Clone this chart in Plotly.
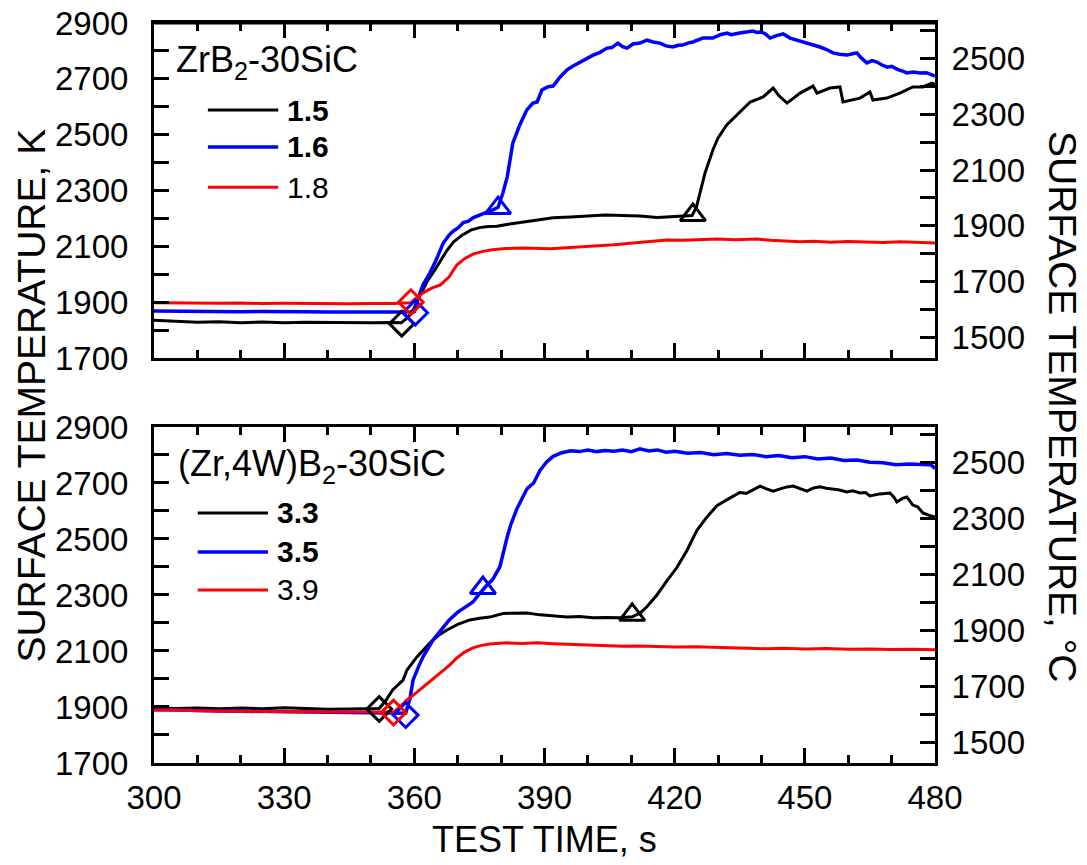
import plotly.graph_objects as go

# ---------------- data ----------------
# Top panel: ZrB2-30SiC
top_15_t = [300, 305, 310, 315, 320, 325, 330, 335, 340, 345, 350, 355, 357, 358.5, 360, 361.5, 363, 364.5, 366, 367.5, 369, 371, 373, 375, 377, 379, 382, 385, 388, 392, 396, 400, 404, 408, 412, 416, 420, 424, 425, 426, 427, 428.8, 430, 432, 434.4, 437.4, 440.4, 442.7, 444, 445.9, 448.9, 451.9, 452.8, 455.8, 458.1, 458.8, 462.7, 465, 465.7, 468.9, 471.9, 474.9, 477.2, 479.3, 480]
top_15_T = [1835, 1832, 1828, 1830, 1826, 1829, 1826, 1828, 1827, 1828, 1826, 1827, 1826, 1845, 1880, 1930, 1975, 2010, 2050, 2085, 2115, 2140, 2158, 2167, 2171, 2172, 2180, 2186, 2192, 2202, 2205, 2208, 2212, 2210, 2209, 2203, 2207, 2210, 2240, 2300, 2363, 2445, 2488, 2535, 2570, 2617, 2635, 2667, 2640, 2613, 2649, 2674, 2649, 2667, 2671, 2617, 2631, 2653, 2624, 2631, 2649, 2671, 2671, 2685, 2680]

top_16_t = [300, 305, 310, 315, 320, 325, 330, 335, 340, 345, 350, 355, 358, 360, 361, 362, 363.6, 365, 366.6, 368, 369, 370, 371.3, 372.5, 373.5, 375, 376.3, 378, 379.3, 380.4, 381.4, 382.7, 384.3, 385.9, 387.3, 388.3, 389.4, 390.8, 392, 393.5, 395.2, 396.5, 398.2, 399.5, 401.2, 402.8, 404.4, 405.5, 406.9, 408, 409, 410.4, 412, 413.6, 415, 416.6, 418, 419.6, 420.8, 421.9, 423, 424.2, 425.4, 426.5, 428.8, 430.5, 432.1, 433, 435, 436.5, 438, 439, 440, 441, 442, 443.5, 445, 446.6, 448.5, 450.5, 452, 453.5, 455, 456.5, 458, 459.7, 461, 462, 463, 464.3, 465.5, 466.6, 468, 469, 470, 471.2, 472.5, 473.5, 475, 476.5, 478, 479.3, 480]
top_16_T = [1868, 1867, 1866, 1868, 1866, 1867, 1865, 1866, 1865, 1866, 1865, 1865, 1865, 1866, 1920, 1962, 2005, 2050, 2110, 2140, 2155, 2165, 2185, 2190, 2202, 2210, 2220, 2230, 2240, 2291, 2348, 2470, 2535, 2588, 2613, 2617, 2660, 2672, 2674, 2705, 2732, 2745, 2760, 2770, 2785, 2795, 2810, 2812, 2828, 2815, 2810, 2825, 2828, 2839, 2832, 2828, 2818, 2814, 2820, 2821, 2828, 2832, 2840, 2846, 2846, 2858, 2864, 2858, 2864, 2866, 2871, 2866, 2868, 2860, 2846, 2855, 2861, 2846, 2838, 2828, 2822, 2814, 2805, 2793, 2788, 2785, 2790, 2793, 2775, 2757, 2765, 2760, 2748, 2742, 2745, 2735, 2728, 2721, 2724, 2721, 2722, 2714, 2710]

top_18_t = [300, 305, 310, 315, 320, 325, 330, 335, 340, 345, 350, 355, 359.2, 361, 362.5, 364, 366, 368, 369.8, 371.5, 373.5, 375.8, 378, 381, 385, 388, 391.3, 395, 398.9, 402, 406, 410.4, 414, 418.2, 422, 426, 429.8, 434, 439, 442, 445, 448.9, 452, 456, 460, 464.3, 468, 472, 476, 480]
top_18_T = [1898, 1897, 1898, 1896, 1897, 1895, 1896, 1895, 1896, 1894, 1895, 1895, 1898, 1922, 1938, 1950, 1962, 1990, 2033, 2055, 2072, 2082, 2088, 2092, 2094, 2093, 2091, 2095, 2098, 2102, 2106, 2112, 2118, 2123, 2122, 2125, 2126, 2124, 2126, 2122, 2120, 2116, 2118, 2115, 2117, 2116, 2114, 2116, 2113, 2112]

# Bottom panel: (Zr,4W)B2-30SiC
bot_33_t = [300, 305, 310, 315, 320, 325, 330, 335, 340, 345, 350, 351.9, 353.5, 355, 357.4, 358.3, 360.6, 363.6, 365.5, 367.5, 370, 372.8, 375, 377.4, 380.4, 383, 386, 389, 392, 395.2, 398, 401.2, 404, 407.4, 410.2, 412, 413.6, 415.9, 418.2, 420.5, 422.8, 425.1, 427.4, 429.8, 432.7, 435, 436.5, 438, 439.7, 441, 442.7, 444.5, 445.9, 447.3, 449, 450.5, 452, 453.5, 455, 456.5, 458, 459.7, 461, 462.7, 464, 465, 467.3, 469.6, 470.5, 471.2, 472.5, 473.5, 474.9, 476, 477.2, 478.5, 480]
bot_33_T = [1898, 1895, 1896, 1894, 1896, 1894, 1897, 1895, 1892, 1893, 1894, 1895, 1925, 1961, 1996, 2032, 2079, 2129, 2155, 2175, 2195, 2211, 2217, 2221, 2234, 2235, 2236, 2229, 2225, 2221, 2223, 2219, 2220, 2219, 2222, 2235, 2258, 2300, 2350, 2398, 2458, 2530, 2578, 2620, 2646, 2666, 2663, 2675, 2689, 2680, 2671, 2680, 2686, 2689, 2680, 2671, 2682, 2686, 2681, 2679, 2675, 2668, 2672, 2664, 2666, 2654, 2661, 2664, 2650, 2632, 2645, 2650, 2621, 2615, 2593, 2585, 2578]

bot_35_t = [300, 305, 310, 315, 320, 325, 330, 335, 340, 345, 350, 355, 358, 359, 359.7, 361, 362, 364.3, 366.6, 368, 369.8, 371.5, 373.5, 374.8, 375.8, 377, 378, 379.7, 381.4, 382.2, 383.7, 386, 387.5, 389, 390.5, 392, 394, 396, 398, 400, 402, 404, 406, 408, 410, 412, 414, 416, 418, 420, 423, 426, 429, 432, 435, 438, 441, 444, 447, 450, 453, 456, 459, 462, 465, 468, 471, 474, 477, 479, 480]
bot_35_T = [1892, 1889, 1887, 1886, 1885, 1884, 1883, 1882, 1881, 1880, 1880, 1879, 1878, 1930, 1996, 2045, 2079, 2139, 2186, 2210, 2236, 2255, 2275, 2300, 2320, 2340, 2354, 2400, 2507, 2550, 2610, 2680, 2700, 2746, 2775, 2795, 2808, 2815, 2812, 2818, 2812, 2816, 2813, 2818, 2812, 2822, 2814, 2818, 2810, 2813, 2806, 2809, 2801, 2805, 2799, 2802, 2794, 2798, 2790, 2794, 2786, 2789, 2780, 2782, 2774, 2772, 2765, 2768, 2766, 2765, 2752]

bot_39_t = [300, 305, 310, 315, 320, 325, 330, 335, 340, 345, 350, 355.2, 357, 358.3, 360, 362, 364, 365.9, 368, 369.8, 371.5, 373.5, 375.5, 377.4, 381.4, 385, 388.3, 392, 396, 400, 404, 408, 412, 416, 420, 425, 430, 435, 440, 441.3, 445, 450, 455, 460, 465, 470, 475, 480]
bot_39_T = [1888, 1889, 1887, 1886, 1884, 1885, 1883, 1884, 1882, 1883, 1882, 1882, 1905, 1925, 1945, 1971, 1995, 2021, 2048, 2075, 2095, 2111, 2120, 2125, 2129, 2127, 2129, 2126, 2124, 2122, 2120, 2117, 2118, 2115, 2114, 2115, 2113, 2112, 2111, 2108, 2110, 2107, 2109, 2106, 2107, 2105, 2106, 2104]

# Event markers (diamond = onset, triangle = jump)
top_onset_t = [357.1, 360.2, 359.2]
top_onset_T = [1823, 1862, 1900]
top_jump_t = [424.2, 379.3]
top_jump_T = [2212, 2237]
bot_onset_t = [351.9, 358.0, 355.2]
bot_onset_T = [1893, 1871, 1880]
bot_jump_t = [410.2, 375.8]
bot_jump_T = [2229, 2325]

top_labels = ["<b>1.5</b>", "<b>1.6</b>", "1.8"]
bot_labels = ["<b>3.3</b>", "<b>3.5</b>", "3.9"]
series_colors = ["#000000", "#0000FF", "#FF0000"]
series_widths = [3, 3.5, 3]

time_range = [300, 480]
K_MIN, K_MAX = 1700, 2900
KELVIN_OFFSET = 273.15

FONT = "Liberation Sans, Arial, sans-serif"

fig = go.Figure()

top_series = [(top_15_t, top_15_T), (top_16_t, top_16_T), (top_18_t, top_18_T)]
bot_series = [(bot_33_t, bot_33_T), (bot_35_t, bot_35_T), (bot_39_t, bot_39_T)]

for (t, T), c, w in zip(top_series, series_colors, series_widths):
    fig.add_trace(go.Scatter(x=t, y=T, mode="lines", line=dict(color=c, width=w),
                             xaxis="x2", yaxis="y2", showlegend=False))
for (t, T), c, w in zip(bot_series, series_colors, series_widths):
    fig.add_trace(go.Scatter(x=t, y=T, mode="lines", line=dict(color=c, width=w),
                             xaxis="x", yaxis="y", showlegend=False))

# invisible traces that carry the Celsius scale (so the right-hand axes are drawn)
celsius_range = [K_MIN - KELVIN_OFFSET, K_MAX - KELVIN_OFFSET]
fig.add_trace(go.Scatter(x=time_range, y=celsius_range, mode="markers", marker=dict(opacity=0),
                         xaxis="x", yaxis="y3", showlegend=False, hoverinfo="skip"))
fig.add_trace(go.Scatter(x=time_range, y=celsius_range, mode="markers", marker=dict(opacity=0),
                         xaxis="x2", yaxis="y4", showlegend=False, hoverinfo="skip"))

# markers
for i, c in enumerate(series_colors):
    fig.add_trace(go.Scatter(x=[top_onset_t[i]], y=[top_onset_T[i]], mode="markers",
                             marker=dict(symbol="diamond-open", size=19, color=c, line=dict(width=3, color=c)),
                             xaxis="x2", yaxis="y2", showlegend=False))
    fig.add_trace(go.Scatter(x=[bot_onset_t[i]], y=[bot_onset_T[i]], mode="markers",
                             marker=dict(symbol="diamond-open", size=19, color=c, line=dict(width=3, color=c)),
                             xaxis="x", yaxis="y", showlegend=False))
for i, c in enumerate(series_colors[:2]):
    fig.add_trace(go.Scatter(x=[top_jump_t[i]], y=[top_jump_T[i]], mode="markers",
                             marker=dict(symbol="triangle-up-open", size=22, color=c, line=dict(width=3, color=c)),
                             xaxis="x2", yaxis="y2", showlegend=False))
    fig.add_trace(go.Scatter(x=[bot_jump_t[i]], y=[bot_jump_T[i]], mode="markers",
                             marker=dict(symbol="triangle-up-open", size=22, color=c, line=dict(width=3, color=c)),
                             xaxis="x", yaxis="y", showlegend=False))

tickfont = dict(family=FONT, size=33, color="black")

xcommon = dict(range=time_range, tickmode="linear", tick0=300, dtick=30,
               ticks="inside", ticklen=15, tickwidth=2.5, tickcolor="black",
               minor=dict(dtick=10, tick0=300, ticklen=8, tickwidth=2.5, ticks="inside", tickcolor="black"),
               showline=True, linewidth=3, linecolor="black", mirror="ticks",
               showgrid=False, zeroline=False, tickfont=tickfont, automargin=False,
               ticklabeloverflow="allow")
ycommon = dict(range=[K_MIN, K_MAX], tickmode="linear", tick0=1700, dtick=200,
               ticks="inside", ticklen=15, tickwidth=2.5, tickcolor="black",
               minor=dict(dtick=100, tick0=1700, ticklen=15, tickwidth=2.5, ticks="inside", tickcolor="black"),
               showline=True, linewidth=3, linecolor="black", mirror=False,
               showgrid=False, zeroline=False, tickfont=tickfont, ticklabelstandoff=16, automargin=False,
               ticklabeloverflow="allow")
ccommon = dict(range=celsius_range, tickmode="linear", tick0=1500, dtick=200,
               ticks="inside", ticklen=15, tickwidth=2.5, tickcolor="black",
               minor=dict(dtick=100, tick0=1500, ticklen=15, tickwidth=2.5, ticks="inside", tickcolor="black"),
               showline=True, linewidth=3, linecolor="black", side="right",
               showgrid=False, zeroline=False, tickfont=tickfont, ticklabelstandoff=7, automargin=False,
               ticklabeloverflow="allow")

bot_dom = [0.0, 0.4541]
top_dom = [0.5473, 1.0]

# the page body adds an 8px offset, so the figure is 8px smaller and margins shifted
fig.update_layout(
    width=1079, height=857,
    margin=dict(l=146, r=152, t=15, b=102, autoexpand=False),
    paper_bgcolor="white", plot_bgcolor="white",
    xaxis=dict(domain=[0, 1], anchor="y", ticklabelstandoff=3, **xcommon),
    xaxis2=dict(domain=[0, 1], anchor="y2", matches="x", showticklabels=False, **xcommon),
    yaxis=dict(domain=bot_dom, anchor="x", **ycommon),
    yaxis2=dict(domain=top_dom, anchor="x2", **ycommon),
    yaxis3=dict(overlaying="y", anchor="x", **ccommon),
    yaxis4=dict(overlaying="y2", anchor="x2", **ccommon),
    font=dict(family=FONT, color="black"),
)

# top frame edge of the upper panel (safety line over the mirrored axis)
fig.add_shape(type="line", xref="x2 domain", yref="y2 domain", x0=0, x1=1, y0=1, y1=1,
              line=dict(color="black", width=3), layer="above")

# panel labels
fig.add_annotation(text="ZrB<sub>2</sub>-30SiC", xref="x2 domain", yref="y2 domain",
                   x=0.026, y=0.884, xanchor="left", yanchor="middle", showarrow=False,
                   font=dict(family=FONT, size=36, color="black"))
fig.add_annotation(text="(Zr,4W)B<sub>2</sub>-30SiC", xref="x domain", yref="y domain",
                   x=0.028, y=0.884, xanchor="left", yanchor="middle", showarrow=False,
                   font=dict(family=FONT, size=36, color="black"))

# manual legends
top_leg_y = [0.740, 0.630, 0.510]
bot_leg_y = [0.744, 0.628, 0.515]
for i in range(3):
    fig.add_shape(type="line", xref="x2 domain", yref="y2 domain",
                  x0=0.069, x1=0.159, y0=top_leg_y[i], y1=top_leg_y[i],
                  line=dict(color=series_colors[i], width=series_widths[i]))
    fig.add_annotation(text=top_labels[i], xref="x2 domain", yref="y2 domain",
                       x=0.168, y=top_leg_y[i], xanchor="left", yanchor="middle", showarrow=False,
                       font=dict(family=FONT, size=30, color="black"))
    fig.add_shape(type="line", xref="x domain", yref="y domain",
                  x0=0.056, x1=0.146, y0=bot_leg_y[i], y1=bot_leg_y[i],
                  line=dict(color=series_colors[i], width=series_widths[i]))
    fig.add_annotation(text=bot_labels[i], xref="x domain", yref="y domain",
                       x=0.155, y=bot_leg_y[i], xanchor="left", yanchor="middle", showarrow=False,
                       font=dict(family=FONT, size=30, color="black"))

# axis titles
fig.add_annotation(text="SURFACE TEMPERATURE, K", xref="paper", yref="paper",
                   x=-0.157, y=0.497, xanchor="center", yanchor="middle", textangle=-90,
                   showarrow=False, font=dict(family=FONT, size=39, color="black"))
fig.add_annotation(text="SURFACE TEMPERATURE, °C", xref="paper", yref="paper",
                   x=1.164, y=0.481, xanchor="center", yanchor="middle", textangle=90,
                   showarrow=False, font=dict(family=FONT, size=39, color="black"))
fig.add_annotation(text="TEST TIME, s", xref="paper", yref="paper",
                   x=0.5006, y=-0.104, xanchor="center", yanchor="middle",
                   showarrow=False, font=dict(family=FONT, size=36, color="black"))

fig.write_html("out.html")
